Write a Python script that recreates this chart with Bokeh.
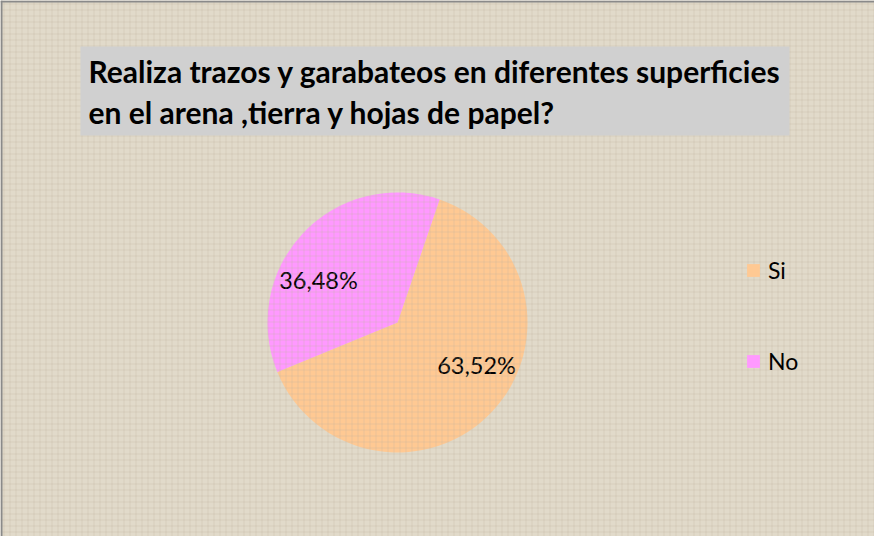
import math
from bokeh.plotting import figure
from bokeh.models import Range1d, BoxAnnotation, Label, Legend, LegendItem, Span, ColumnDataSource
from bokeh.core.properties import value
from bokeh.embed import file_html
from bokeh.resources import INLINE

# ---- data ----
categories = ["Si", "No"]
percentages = [63.52, 36.48]
colors = ["#FFC993", "#FF99FF"]
label_texts = ["63,52%", "36,48%"]
title_lines = ["Realiza trazos y garabateos en diferentes superficies",
               "en el arena ,tierra y hojas de papel?"]

W, H = 874, 536
BG = "#E1DACA"
FONT = "Lato"

p = figure(width=W, height=H, output_backend="svg", toolbar_location=None,
           x_range=Range1d(0, W), y_range=Range1d(0, H), min_border=0,
           background_fill_color=BG, border_fill_color=BG)
p.axis.visible = False
p.grid.visible = False
p.outline_line_color = None

# linen-like texture
p.add_layout(BoxAnnotation(left=0, right=W, bottom=0, top=H, fill_alpha=0,
                           line_color=None, hatch_pattern="+", hatch_color="#BFB49F",
                           hatch_alpha=0.3, hatch_scale=6, hatch_weight=1))

# left/top border
p.add_layout(Span(location=1, dimension="height", line_color="#8A8A8A", line_width=2))
p.add_layout(Span(location=H - 1, dimension="width", line_color="#8A8A8A", line_width=2))

# title box
p.add_layout(BoxAnnotation(left=80, right=789, bottom=401, top=490,
                           fill_color="#D0D0D0", fill_alpha=1, line_color=None))
for i, line in enumerate(title_lines):
    p.add_layout(Label(x=88, y=466 - 41 * i, text=line, text_font=FONT,
                       text_font_size="30px", text_font_style="bold",
                       text_color="#000000", text_baseline="middle", text_align="left"))

# pie
cx, cy, R = 397, 214, 130
start_deg = 71.1
starts, ends, mids = [], [], []
a = start_deg
for v in percentages:
    span = v / 100 * 360
    starts.append(math.radians(a))
    ends.append(math.radians(a - span))
    mids.append(a - span / 2)
    a -= span

src = ColumnDataSource(dict(cat=categories, start=starts, end=ends, color=colors))
r = p.wedge(x=cx, y=cy, radius=R, start_angle="start", end_angle="end",
            direction="clock", fill_color="color", line_color=None, source=src)

# data labels
shift = 15
lr = 0.69 * R
lx = [cx + lr * math.cos(math.radians(m + shift)) for m in mids]
ly = [cy + lr * math.sin(math.radians(m + shift)) for m in mids]
p.text(x=lx, y=ly, text=label_texts, text_font=value(FONT), text_font_size="23.5px",
       text_color="#000000", text_align="center", text_baseline="middle")

# legend
legend = Legend(items=[LegendItem(label=c, renderers=[r], index=i) for i, c in enumerate(categories)],
                location=(745, 161), orientation="vertical",
                background_fill_alpha=0, border_line_color=None,
                label_text_font=FONT, label_text_font_size="23px", label_text_color="#000000",
                glyph_width=16, glyph_height=16, spacing=63, padding=0, margin=0,
                label_standoff=7)
p.add_layout(legend)

open("out.html", "w").write(file_html(p, INLINE))
